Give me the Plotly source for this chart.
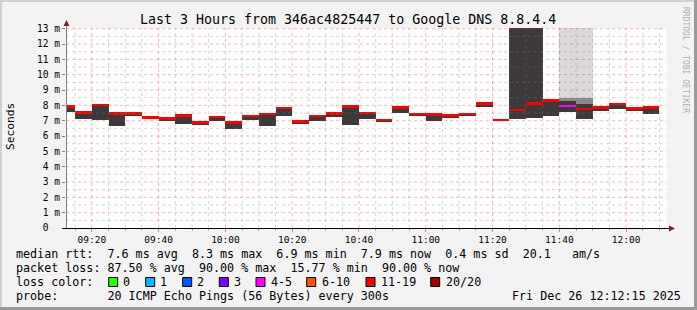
import plotly.graph_objects as go

# ---------------- data ----------------
bar_start = [
    "2025-12-26 09:10", "2025-12-26 09:15", "2025-12-26 09:20", "2025-12-26 09:25",
    "2025-12-26 09:30", "2025-12-26 09:35", "2025-12-26 09:40", "2025-12-26 09:45",
    "2025-12-26 09:50", "2025-12-26 09:55", "2025-12-26 10:00", "2025-12-26 10:05",
    "2025-12-26 10:10", "2025-12-26 10:15", "2025-12-26 10:20", "2025-12-26 10:25",
    "2025-12-26 10:30", "2025-12-26 10:35", "2025-12-26 10:40", "2025-12-26 10:45",
    "2025-12-26 10:50", "2025-12-26 10:55", "2025-12-26 11:00", "2025-12-26 11:05",
    "2025-12-26 11:10", "2025-12-26 11:15", "2025-12-26 11:20", "2025-12-26 11:25",
    "2025-12-26 11:30", "2025-12-26 11:35", "2025-12-26 11:40", "2025-12-26 11:45",
    "2025-12-26 11:50", "2025-12-26 11:55", "2025-12-26 12:00", "2025-12-26 12:05",
]
median_ms = [7.93, 7.53, 8.02, 7.46, 7.46, 7.21, 7.13, 7.35, 6.87, 7.24, 6.88, 7.31,
             7.42, 7.83, 6.95, 7.29, 7.46, 7.93, 7.51, 7.03, 7.86, 7.42, 7.39, 7.33,
             7.42, 8.13, 7.05, 7.68, 8.12, 8.32, 7.97, 7.77, 7.85, 8.09, 7.80, 7.86]
smoke_low = [7.59, 7.11, 7.06, 6.63, 7.28, 7.15, 7.00, 6.76, 6.69, 7.00, 6.48, 7.02,
             6.63, 7.28, 6.80, 6.95, 7.26, 6.69, 7.11, 6.95, 7.50, 7.33, 6.95, 7.24,
             7.33, 7.89, 6.98, 7.11, 7.20, 7.33, 7.55, 7.13, 7.60, 7.78, 7.65, 7.46]
smoke_high = [7.93, 7.53, 8.02, 7.46, 7.46, 7.21, 7.13, 7.35, 6.87, 7.24, 6.88, 7.31,
              7.42, 7.83, 6.95, 7.29, 7.46, 7.93, 7.51, 7.03, 7.86, 7.42, 7.39, 7.33,
              7.42, 8.13, 7.05, 14.0, 14.0, 8.32, 8.30, 8.10, 7.85, 8.09, 7.80, 7.86]
far_low = [None] * 30 + [8.48, 8.48] + [None] * 4
far_high = [None] * 30 + [14.0, 14.0] + [None] * 4
mid_low = [None] * 30 + [7.55, 7.90] + [None] * 4
mid_high = [None] * 30 + [8.48, 8.48] + [None] * 4
loss_bucket = ["11-19"] * 30 + ["4-5"] + ["11-19"] * 5

loss_labels = ["0", "1", "2", "3", "4-5", "6-10", "11-19", "20/20"]
loss_colors = ["#26ff00", "#00b8ff", "#0059ff", "#7e00ff", "#ff00ff", "#ff5500", "#ff0000", "#a10000"]
y_ticks = list(range(0, 14))
y_ticktext = ["0\u00a0\u00a0"] + [f"{v} m" for v in range(1, 14)]

title = "Last 3 Hours from 346ac4825447 to Google DNS 8.8.4.4"
legend_lines = [
    "median rtt:  7.6 ms avg  8.3 ms max  6.9 ms min  7.9 ms now  0.4 ms sd  20.1   am/s",
    "packet loss: 87.50 % avg  90.00 % max  15.77 % min  90.00 % now",
    "loss color:",
    "probe:       20 ICMP Echo Pings (56 Bytes) every 300s",
]
stamp = "Fri Dec 26 12:12:15 2025"

# ---------------- geometry helpers ----------------
W, H = 697, 310
L, R, T, B = 66, 667, 28, 228
def px(x):
    return (x - L) / (R - L)
def py(y):
    return (B - y) / (B - T)

FONT = "DejaVu Sans Mono"
STEP = 300000
color_of = dict(zip(loss_labels, loss_colors))

fig = go.Figure()

def add_band(lows, highs, color):
    xs, bases, hs = [], [], []
    for x, lo, hi in zip(bar_start, lows, highs):
        if lo is None or hi is None:
            continue
        xs.append(x); bases.append(lo); hs.append(hi - lo)
    fig.add_trace(go.Bar(x=xs, y=hs, base=bases, width=STEP, offset=0,
                         marker=dict(color=color, line=dict(width=0)),
                         hoverinfo="skip", showlegend=False))

add_band(far_low, far_high, "#d9d9d9")
add_band(mid_low, mid_high, "#8a8a8a")
add_band(smoke_low, smoke_high, "#3a3a3a")

band = 0.08
fig.add_trace(go.Bar(x=bar_start, y=[2 * band] * len(median_ms),
                     base=[m - band for m in median_ms], width=STEP, offset=0,
                     marker=dict(color=[color_of[b] for b in loss_bucket], line=dict(width=0)),
                     hoverinfo="skip", showlegend=False))

shapes = []
# grid (drawn above data, like rrdtool)
minor_col = "rgba(128,128,128,0.33)"
major_col = "rgba(255,0,0,0.30)"
for i in range(1, 27):
    v = i * 0.5
    col = major_col if i % 2 == 0 else minor_col
    shapes.append(dict(type="line", xref="paper", yref="y", x0=0, x1=1, y0=v, y1=v,
                       line=dict(color=col, width=1, dash="dot"), layer="above"))
for hh in range(9, 13):
    for mm in range(0, 60, 5):
        t = hh * 60 + mm
        if t < 9 * 60 + 15 or t > 12 * 60 + 10:
            continue
        col = major_col if mm % 20 == 0 else minor_col
        x = f"2025-12-26 {hh:02d}:{mm:02d}"
        shapes.append(dict(type="line", xref="x", yref="paper", x0=x, x1=x, y0=0, y1=1,
                           line=dict(color=col, width=1, dash="dot"), layer="above"))
# axes
shapes.append(dict(type="line", xref="paper", yref="paper", x0=px(66.5), x1=px(66.5),
                   y0=py(228), y1=py(24), line=dict(color="#808080", width=1), layer="above"))
shapes.append(dict(type="line", xref="paper", yref="paper", x0=px(62), x1=px(670),
                   y0=py(228.5), y1=py(228.5), line=dict(color="#000000", width=1), layer="above"))
shapes.append(dict(type="path", xref="paper", yref="paper",
                   path=f"M {px(63.5)},{py(26)} L {px(69.5)},{py(26)} L {px(66.5)},{py(20)} Z",
                   fillcolor="#7f1f1f", line=dict(width=0), layer="above"))
shapes.append(dict(type="path", xref="paper", yref="paper",
                   path=f"M {px(669)},{py(225.5)} L {px(669)},{py(231.5)} L {px(675)},{py(228.5)} Z",
                   fillcolor="#7f1f1f", line=dict(width=0), layer="above"))
# frame
shapes.append(dict(type="rect", xref="paper", yref="paper", x0=px(0), x1=px(697), y0=py(0), y1=py(2),
                   fillcolor="#d0d0d0", line=dict(width=0)))
shapes.append(dict(type="rect", xref="paper", yref="paper", x0=px(0), x1=px(2), y0=py(0), y1=py(310),
                   fillcolor="#d0d0d0", line=dict(width=0)))
shapes.append(dict(type="rect", xref="paper", yref="paper", x0=px(694), x1=px(697), y0=py(0), y1=py(310),
                   fillcolor="#9a9a9a", line=dict(width=0)))
shapes.append(dict(type="rect", xref="paper", yref="paper", x0=px(0), x1=px(697), y0=py(307), y1=py(310),
                   fillcolor="#9a9a9a", line=dict(width=0)))

annotations = []
def text(x, y, s, size=11.7, anchor="left", color="#000000", angle=0):
    annotations.append(dict(xref="paper", yref="paper", x=px(x), y=py(y), text=s.replace(" ", "\u00a0"),
                            showarrow=False, xanchor=anchor, yanchor="middle", textangle=angle,
                            font=dict(family=FONT, size=size, color=color), borderpad=0, borderwidth=0))

text(348, 19, title, size=13.3, anchor="center")
text(10, 127, "Seconds", size=11.2, anchor="center", angle=-90)
text(686, 60, "RRDTOOL / TOBI OETIKER", size=8, anchor="center", color="#b0b0b0", angle=90)
legend_y = [254.3, 268.3, 281.7, 296]
for s, yy in zip(legend_lines, legend_y):
    text(16, yy, s)
text(681, 296, stamp, anchor="right")

box_x = [108.7, 145.7, 182.7, 219.3, 256, 306.7, 366, 430.7]
lab_x = [123.3, 160, 197.3, 234.3, 270.7, 321.7, 380.7, 446]
for lab, col, bx, lx in zip(loss_labels, loss_colors, box_x, lab_x):
    shapes.append(dict(type="rect", xref="paper", yref="paper", x0=px(bx), x1=px(bx + 9),
                       y0=py(286.5), y1=py(277.5), fillcolor=col, line=dict(color="#000000", width=1)))
    text(lx, legend_y[2], lab)

fig.update_layout(
    width=W, height=H, margin=dict(l=L, r=W - R, t=T, b=H - B, pad=0),
    paper_bgcolor="#f3f3f3", plot_bgcolor="#ffffff",
    barmode="overlay", bargap=0, showlegend=False,
    shapes=shapes, annotations=annotations,
    xaxis=dict(type="date", range=["2025-12-26 09:12:15", "2025-12-26 12:12:15"],
               tickformat="%H:%M", tick0="2025-12-26 09:20", dtick=1200000,
               ticks="outside", ticklen=3, tickcolor="#f08080",
               tickfont=dict(family=FONT, size=9.5, color="#000000"),
               showgrid=False, zeroline=False, showline=False, fixedrange=True,
               minor=dict(dtick=STEP, tick0="2025-12-26 09:15", ticks="outside", ticklen=2,
                          tickcolor="#b0b0b0", showgrid=False)),
    yaxis=dict(range=[0, 200 / 15.33], tickvals=y_ticks, ticktext=y_ticktext,
               ticks="outside", ticklen=3, tickcolor="#808080",
               tickfont=dict(family=FONT, size=9.6, color="#000000"),
               showgrid=False, zeroline=False, showline=False, fixedrange=True),
)

fig.write_html("out.html")
